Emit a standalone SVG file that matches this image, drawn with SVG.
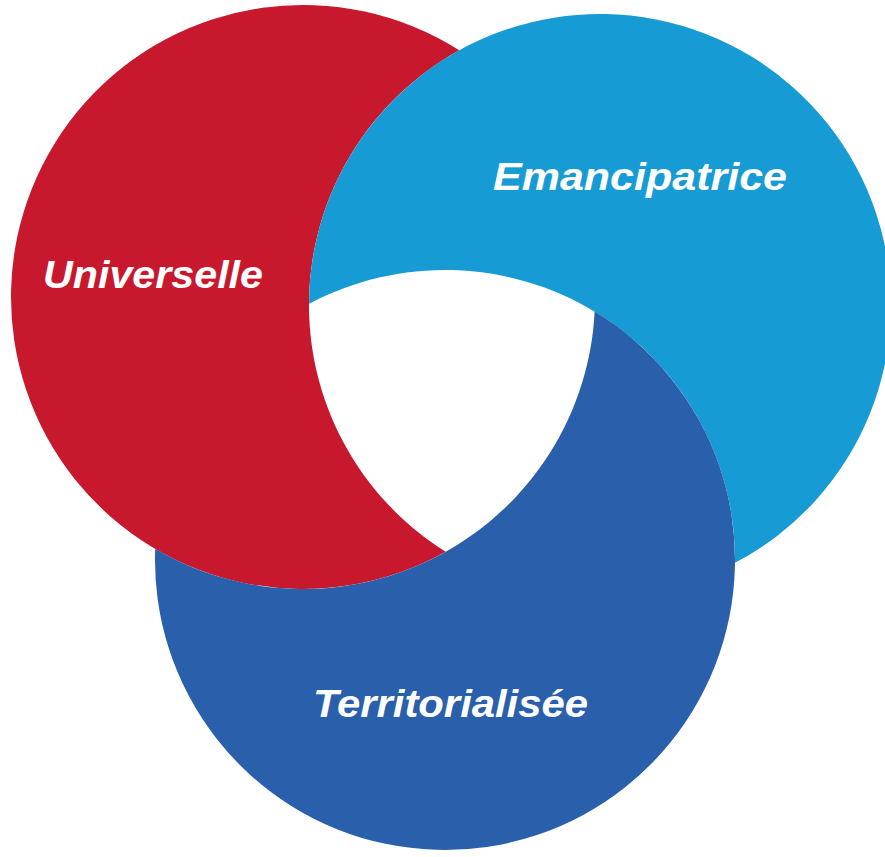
<svg xmlns="http://www.w3.org/2000/svg" width="885" height="857" viewBox="0 0 885 857">
  <style>
    .lbl { font-family: "Liberation Sans", Arial, sans-serif; font-weight: bold; font-style: italic; font-size: 38px; fill: #ffffff; }
    .red { fill: #C8182D; }
    .light { fill: #169BD4; }
    .dark { fill: #2A5FAB; }
  </style>
  <rect width="885" height="857" fill="#ffffff"/>
  <g id="node-universelle">
    <path class="red" d="M459.22,50.31 A292,292 0 1 0 445.72,551.75 A291,291 0 0 1 459.22,50.31 Z"/>
    <text class="lbl" x="43" y="288" textLength="220" lengthAdjust="spacingAndGlyphs">Universelle</text>
  </g>
  <g id="node-emancipatrice">
    <path class="light" d="M309.0,303.86 A291,291 0 1 1 734.98,562.80 A290,290 0 0 0 309.0,303.86 Z"/>
    <text class="lbl" x="493" y="190" textLength="294" lengthAdjust="spacingAndGlyphs">Emancipatrice</text>
  </g>
  <g id="node-territorialisee">
    <path class="dark" d="M594.64,311.60 A290,290 0 1 1 155.22,548.84 A292,292 0 0 0 594.64,311.60 Z"/>
    <text class="lbl" x="313" y="717" textLength="275" lengthAdjust="spacingAndGlyphs">Territorialisée</text>
  </g>
  <g id="connectors"/>
</svg>
